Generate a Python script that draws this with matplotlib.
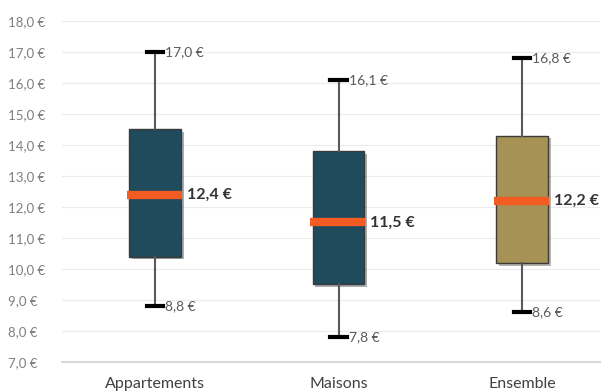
import matplotlib.pyplot as plt
import matplotlib.patheffects as pe
import numpy as np

plt.rcParams['font.family'] = ['Lato', 'DejaVu Sans']

categories = ["Appartements", "Maisons", "Ensemble"]
mins = [8.8, 7.8, 8.6]
q1s = [10.4, 9.5, 10.2]
medians = [12.4, 11.5, 12.2]
q3s = [14.5, 13.8, 14.3]
maxs = [17.0, 16.1, 16.8]
box_colors = ["#1F4B5D", "#1F4B5D", "#A69255"]
yticks = np.arange(7, 18.5, 1.0)


def euro(v):
    return f"{v:.1f} €".replace(".", ",")


fig = plt.figure(figsize=(6.04, 3.91), dpi=100)
ax = fig.add_axes([62 / 604, 29 / 391, 538 / 604, 341 / 391])

stats = [dict(label=c, whislo=lo, q1=a, med=m, q3=b, whishi=hi, fliers=[])
         for c, lo, a, m, b, hi in zip(categories, mins, q1s, medians, q3s, maxs)]
pos = np.arange(len(categories))
bp = ax.bxp(stats, positions=pos, widths=0.283, patch_artist=True,
            showcaps=True,
            boxprops=dict(edgecolor="#3a3a3a", linewidth=1.0),
            whiskerprops=dict(color="#595959", linewidth=1.5),
            capprops=dict(color="black", linewidth=3.0),
            medianprops=dict(color="#F25C22", linewidth=6, solid_capstyle="butt"),
            capwidths=0.088)
for patch, col in zip(bp["boxes"], box_colors):
    patch.set_facecolor(col)
    patch.set_path_effects([pe.SimplePatchShadow(offset=(2, -2), alpha=0.35),
                            pe.Normal()])
for med in bp["medians"]:
    x0, x1 = med.get_xdata()
    med.set_xdata([x0 - 0.012, x1 + 0.004])
    med.set_zorder(3)

for x, lo, m, hi in zip(pos, mins, medians, maxs):
    ax.text(x + 0.056, hi, euro(hi), va="center", ha="left", fontsize=10, color="#595959")
    ax.text(x + 0.056, lo, euro(lo), va="center", ha="left", fontsize=10, color="#595959")
    ax.text(x + 0.172, m, euro(m), va="center", ha="left", fontsize=11.5,
            fontweight="bold", color="#333333")

ax.set_xlim(-0.507, 2.425)
ax.set_ylim(7, 18)
ax.set_yticks(yticks)
ax.set_yticklabels([euro(v) for v in yticks], fontsize=9.5, color="#7F7F7F")
ax.set_xticks(pos)
ax.set_xticklabels(categories, fontsize=11.5, color="#404040")
ax.tick_params(axis="both", length=0)
ax.tick_params(axis="x", pad=11)
ax.tick_params(axis="y", pad=39)
for t in ax.get_yticklabels():
    t.set_ha("left")
ax.grid(axis="y", color="#EBEBEB", linewidth=0.8)
ax.set_axisbelow(True)
for s in ["top", "right", "left"]:
    ax.spines[s].set_visible(False)
ax.spines["bottom"].set_color("#D9D9D9")
ax.spines["bottom"].set_linewidth(1.5)

fig.savefig("out.png", dpi=100)
